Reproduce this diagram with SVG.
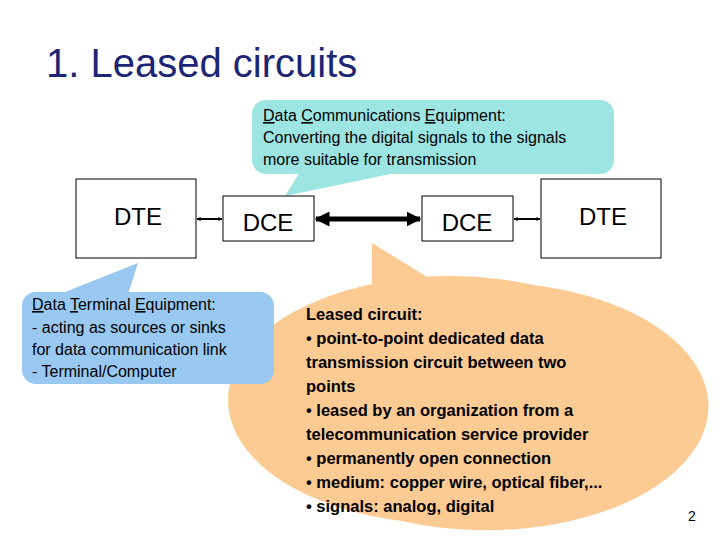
<svg xmlns="http://www.w3.org/2000/svg" width="720" height="540" viewBox="0 0 720 540">
<defs>
<style>
text{font-family:"Liberation Sans",Arial,sans-serif;fill:#000}
.box{fill:#fff;stroke:#000;stroke-width:1}
.lbl{font-size:24px}
.c{font-size:16px}
.o{font-size:16.5px;font-weight:bold}
</style>
<marker id="ah" viewBox="0 0 10 10" refX="9" refY="5" markerWidth="3" markerHeight="3" orient="auto-start-reverse"><path d="M0,0L10,5L0,10z" fill="#000"/></marker>
<marker id="ah2" viewBox="0 0 10 10" refX="9" refY="5" markerWidth="2" markerHeight="2.5" orient="auto-start-reverse"><path d="M0,0L10,5L0,10z" fill="#000"/></marker>
</defs>
<rect width="720" height="540" fill="#fff"/>
<text x="46" y="77" style="font-size:40px;fill:#1c2674">1. Leased circuits</text>
<g id="orange-callout">
<path d="M372,243 L440,285 A222,124 0 1 1 372,300 Z" fill="#fccb94"/>
<ellipse cx="450" cy="400" rx="222" ry="124" fill="#fccb94"/>
<g class="o">
<text x="306" y="320">Leased circuit:</text>
<text x="306" y="344">• point-to-point dedicated data</text>
<text x="306" y="368">transmission circuit between two</text>
<text x="306" y="392">points</text>
<text x="306" y="416">• leased by an organization from a</text>
<text x="306" y="440">telecommunication service provider</text>
<text x="306" y="464">• permanently open connection</text>
<text x="306" y="488">• medium: copper wire, optical fiber,...</text>
<text x="306" y="512">• signals: analog, digital</text>
</g>
</g>
<g id="cyan-callout">
<path d="M285,196 L300,172 L400,172 Z" fill="#9de5e2"/>
<rect x="252" y="100" width="362" height="74" rx="14" fill="#9de5e2"/>
<g class="c">
<text x="263" y="121"><tspan text-decoration="underline">D</tspan>ata <tspan text-decoration="underline">C</tspan>ommunications <tspan text-decoration="underline">E</tspan>quipment:</text>
<text x="263" y="143">Converting the digital signals to the signals</text>
<text x="263" y="165">more suitable for transmission</text>
</g>
</g>
<g id="blue-callout">
<path d="M138,263 L60,294 L128,294 Z" fill="#99c8f1"/>
<rect x="22" y="292" width="252" height="92" rx="14" fill="#99c8f1"/>
<g class="c">
<text x="32" y="310"><tspan text-decoration="underline">D</tspan>ata <tspan text-decoration="underline">T</tspan>erminal <tspan text-decoration="underline">E</tspan>quipment:</text>
<text x="32" y="333"> - acting as sources or sinks</text>
<text x="32" y="355">for data communication link</text>
<text x="32" y="377">- Terminal/Computer</text>
</g>
</g>
<g id="dte1"><rect class="box" x="76" y="179" width="120" height="79"/><text class="lbl" x="138" y="225" text-anchor="middle">DTE</text></g>
<g id="dce1"><rect class="box" x="223" y="196" width="91" height="45"/><text class="lbl" x="268" y="231" text-anchor="middle">DCE</text></g>
<g id="dce2"><rect class="box" x="422" y="196" width="91" height="45"/><text class="lbl" x="467" y="231" text-anchor="middle">DCE</text></g>
<g id="dte2"><rect class="box" x="541" y="179" width="120" height="79"/><text class="lbl" x="603" y="225" text-anchor="middle">DTE</text></g>
<g id="connectors" stroke="#000" fill="none">
<line x1="197" y1="219" x2="222" y2="219" stroke-width="2" marker-start="url(#ah2)" marker-end="url(#ah2)"/>
<line x1="316" y1="219" x2="420" y2="219" stroke-width="5" marker-start="url(#ah)" marker-end="url(#ah)"/>
<line x1="514" y1="219" x2="540" y2="219" stroke-width="2" marker-start="url(#ah2)" marker-end="url(#ah2)"/>
</g>
<text x="688" y="521" style="font-size:14px">2</text>
</svg>
